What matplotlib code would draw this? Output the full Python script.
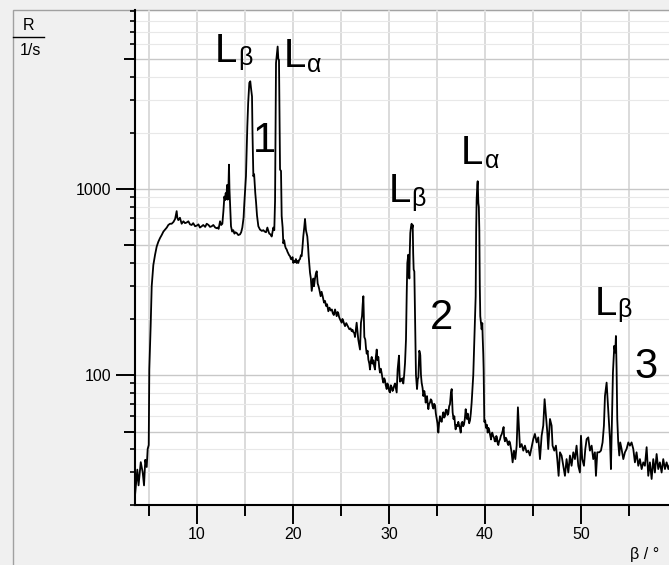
import matplotlib
matplotlib.use('Agg')
import matplotlib.pyplot as plt
from matplotlib.ticker import NullFormatter, NullLocator
from matplotlib.patches import Rectangle
from matplotlib.lines import Line2D

W, H = 669, 565

# spectrum: angle beta (deg) and rate R (1/s)
beta = [
    3.54, 3.78, 3.91, 4.14, 4.34, 4.48, 4.61, 4.76, 4.86, 4.97,
    5.03, 5.17, 5.28, 5.45, 5.63, 5.80, 5.97, 6.15, 6.32, 6.50,
    6.67, 6.85, 7.01, 7.19, 7.36, 7.55, 7.72, 7.88, 7.95, 8.05,
    8.22, 8.40, 8.58, 8.75, 8.92, 9.10, 9.27, 9.44, 9.60, 9.80,
    9.97, 10.15, 10.30, 10.49, 10.65, 10.85, 11.01, 11.20, 11.36, 11.53,
    11.70, 11.90, 12.05, 12.15, 12.25, 12.40, 12.52, 12.64, 12.75, 12.85,
    12.92, 12.99, 13.06, 13.13, 13.20, 13.26, 13.33, 13.38, 13.44, 13.54,
    13.66, 13.78, 13.90, 14.00, 14.13, 14.30, 14.48, 14.60, 14.72, 14.85,
    14.93, 15.02, 15.10, 15.17, 15.24, 15.33, 15.45, 15.55, 15.62, 15.73,
    15.78, 15.87, 15.95, 16.07, 16.15, 16.25, 16.39, 16.56,
    16.75, 16.91, 17.05, 17.19, 17.33, 17.45, 17.53, 17.65, 17.78, 17.88,
    17.95, 18.05, 18.13, 18.23, 18.30, 18.40, 18.47, 18.54, 18.60, 18.65,
    18.75, 18.82, 18.92, 18.99, 19.08, 19.17, 19.25, 19.34, 19.42, 19.51,
    19.60, 19.69, 19.78, 19.86, 19.95, 20.03, 20.12, 20.21, 20.30, 20.38,
    20.47, 20.55, 20.64, 20.73, 20.82, 20.90, 20.98, 21.07, 21.17, 21.25,
    21.35, 21.49, 21.56, 21.63, 21.70, 21.77, 21.86, 21.95, 22.05, 22.12,
    22.19, 22.29, 22.38, 22.47, 22.57, 22.66, 22.74, 22.88, 22.98, 23.09,
    23.23, 23.34, 23.44, 23.55, 23.68, 23.80, 23.93, 24.05, 24.14, 24.25,
    24.38, 24.47, 24.55, 24.65, 24.72, 24.80, 24.90, 25.07, 25.15, 25.24,
    25.33, 25.42, 25.55, 25.66, 25.77, 25.87, 26.00, 26.11, 26.20, 26.28,
    26.38, 26.46, 26.55, 26.63, 26.72, 26.80, 26.90, 26.98, 27.08, 27.19,
    27.26, 27.33, 27.38, 27.43, 27.53, 27.60, 27.68, 27.77, 27.85, 27.95,
    28.02, 28.10, 28.20, 28.28, 28.37, 28.45, 28.54, 28.63, 28.72, 28.80,
    28.89, 28.98, 29.06, 29.15, 29.24, 29.33, 29.41, 29.50, 29.58, 29.66,
    29.76, 29.84, 29.93, 30.02, 30.10,
    30.19, 30.28, 30.37, 30.45, 30.55, 30.63, 30.72, 30.80, 30.90, 31.04,
    31.10, 31.15, 31.25, 31.32, 31.40, 31.49, 31.58, 31.67, 31.77, 31.85,
    31.91, 32.01, 32.06, 32.12, 32.17, 32.22, 32.30, 32.36, 32.42, 32.47,
    32.52, 32.57, 32.64, 32.71, 32.76, 32.81, 32.92, 33.00, 33.06, 33.16,
    33.26, 33.33, 33.40, 33.50, 33.58, 33.68, 33.75, 33.82, 33.90, 33.96,
    34.03, 34.10, 34.18, 34.27, 34.35, 34.44, 34.53, 34.62, 34.70, 34.79,
    34.88, 34.97, 35.05, 35.14, 35.22, 35.31, 35.40, 35.49, 35.57, 35.66,
    35.75, 35.83, 35.92, 36.01, 36.10, 36.18, 36.27, 36.35, 36.45, 36.53,
    36.63, 36.72, 36.81, 36.88, 36.94, 37.05, 37.15, 37.22, 37.29, 37.38,
    37.47, 37.55, 37.64, 37.72, 37.81, 37.90, 37.99, 38.06, 38.13, 38.20,
    38.26, 38.35, 38.44, 38.52, 38.61, 38.70, 38.78, 38.89, 39.03, 39.08,
    39.13, 39.20, 39.24, 39.28, 39.31, 39.36, 39.41, 39.46, 39.51, 39.58,
    39.65, 39.72, 39.76, 39.82, 39.86, 39.93, 40.02, 40.10, 40.20, 40.28,
    40.35, 40.42, 40.52, 40.63, 40.70, 40.76, 40.85, 40.94, 41.02, 41.11,
    41.18, 41.25, 41.32, 41.39, 41.47, 41.56, 41.65, 41.74, 41.84, 41.94,
    42.00, 42.08, 42.17, 42.26, 42.35, 42.43, 42.52,
    42.60, 42.77, 42.88, 43.02, 43.16, 43.30, 43.43, 43.54, 43.64, 43.82,
    43.99, 44.16, 44.34, 44.51, 44.68, 44.86, 45.03, 45.20, 45.38, 45.55,
    45.73, 45.90, 46.07, 46.21, 46.35, 46.49, 46.59, 46.77, 46.94, 47.04,
    47.22, 47.39, 47.53, 47.67, 47.81, 47.98, 48.16, 48.33, 48.50, 48.68,
    48.85, 49.02, 49.20, 49.37, 49.54, 49.72, 49.89, 50.00, 50.13, 50.31,
    50.45, 50.59, 50.76, 50.93, 51.11, 51.28, 51.45, 51.56, 51.70, 51.91,
    52.08, 52.25, 52.39, 52.50, 52.67, 52.77, 52.88, 53.02, 53.12, 53.23,
    53.33, 53.47, 53.57, 53.64, 53.71, 53.78, 53.88, 53.99, 54.09, 54.23,
    54.41, 54.58, 54.75, 54.93, 55.10, 55.27, 55.45, 55.62, 55.79, 55.97,
    56.14, 56.32, 56.49, 56.66, 56.84, 57.01, 57.18, 57.36, 57.53, 57.70,
    57.88, 58.05, 58.22, 58.40, 58.57, 58.75, 58.92, 59.10, 59.25,
]
rate = [
    22.5, 31, 25.5, 34, 30, 25.5, 35, 32, 40, 42,
    107, 183, 300, 390, 443, 490, 520, 545, 565, 590,
    605, 620, 640, 650, 650, 665, 690, 760, 700, 680,
    700, 650, 670, 655, 660, 670, 645, 640, 655, 630,
    635, 645, 620, 630, 640, 625, 650, 640, 625, 630,
    640, 620, 615, 620, 610, 670, 640, 650, 760, 910,
    870, 950, 880, 1050, 876, 950, 1350, 1000, 840, 630,
    590, 600, 575, 585, 580, 565, 570, 585, 620, 700,
    840, 1000, 1170, 1600, 2160, 2900, 3720, 3790, 3500, 3140,
    2000, 1170, 1200, 950, 850, 720, 630, 605,
    595, 600, 590, 585, 620, 590, 575, 570, 555, 590,
    620, 600, 860, 4750, 5200, 5830, 5000, 4940, 2500, 1270,
    1250, 715, 620, 510, 530, 495, 480, 473, 460, 450,
    440, 435, 420, 418, 430, 400, 410, 405, 420, 400,
    410, 400, 415, 420, 440, 435, 480, 555, 620, 690,
    600, 555, 500, 435, 390, 355, 330, 283, 310, 330,
    300, 330, 350, 361, 310, 300, 288, 265, 280, 265,
    245, 250, 235, 240, 220, 230, 222, 225, 215, 210,
    225, 215, 207, 218, 215, 205, 199, 191, 200, 195,
    188, 183, 190, 185, 180, 176, 178, 172, 175, 170,
    168, 160, 175, 191, 170, 155, 145, 137, 191, 207,
    240, 265, 200, 160, 155, 140, 130, 135, 121, 115,
    107, 118, 125, 115, 120, 112, 107, 125, 137, 120,
    125, 110, 103, 108, 102, 95, 91, 96, 94, 88,
    84, 90, 87, 82, 80.5,
    88, 86, 82, 84, 88, 90, 85, 80.5, 107, 127,
    100, 92, 95, 93, 96, 90, 100, 116, 155, 280,
    400, 443, 380, 330, 470, 580, 630, 650, 620, 640,
    450, 369, 360, 207, 140, 100, 84, 95, 97, 135,
    128, 100, 91, 85, 77, 82, 78, 71, 74, 77,
    70, 65.5, 70, 71, 74, 73, 68, 66, 70, 69,
    62, 58, 55, 49, 55, 60, 57, 56, 60, 63,
    59, 60, 65, 65, 61, 62, 68, 69.5, 80, 84,
    63, 58, 60, 54, 51, 54, 53, 56, 54, 52,
    49, 55, 56, 53, 54, 58, 65.5, 60, 58, 62,
    59, 55, 57, 62, 71, 85, 100, 155, 265, 600,
    876, 1050, 1100, 950, 840, 800, 600, 300, 207, 190,
    176, 190, 160, 130, 107, 56, 57, 52, 54, 49,
    52, 51, 48, 45, 48, 49, 47, 46, 44, 44,
    47, 46, 43, 42, 44, 45, 47, 48, 50, 52.5,
    46, 44, 46, 45, 43, 42, 44,
    43.4, 38.4, 33.9, 39.2, 35.3, 41.7, 67, 51.2, 40.9, 42.5,
    39.2, 41.7, 38.4, 39.2, 36.9, 40.9, 45.2, 48.2, 43.4, 46.2,
    35.3, 47.1, 53.4, 74.1, 60.5, 49.3, 40, 58, 53.4, 41.7,
    39.2, 41.7, 35.3, 28.7, 38.4, 36.9, 32.5, 28.7, 35.3, 29.9,
    36.9, 32.5, 38.4, 35.3, 41.7, 32.5, 29.9, 47.1, 35.3, 32.5,
    40, 45.2, 46.2, 39.2, 41.7, 35.3, 38.4, 28.7, 38.4, 38.4,
    39.2, 43.4, 53.4, 77.2, 91, 74.1, 58, 45.2, 31.2, 58,
    103, 143.5, 132, 162, 107, 58, 43.4, 36.9, 43.4, 40,
    35.3, 38.4, 40, 43.4, 41.7, 43.4, 40, 33.9, 38.4, 32.5,
    35.3, 31.2, 33.9, 32.5, 40.9, 28.7, 33.9, 27.6, 35.3, 29.9,
    37.6, 31.2, 33.9, 29.9, 35.3, 31.2, 33.9, 31.2, 33,
]

x_major = [10, 20, 30, 40, 50]
x_minor = [5, 15, 25, 35, 45, 55]
y_major = [100, 1000]
y_major_labels = ['100', '1000']
y_five = [50, 500, 5000]
y_minor = [m * 10 ** e for e in (1, 2, 3) for m in (2, 3, 4, 6, 7, 8, 9)]

# peak labels: (main letter, subscript, ink left px, baseline px, sub left px, sub baseline px)
line_labels = [
    ('L', 'β', 218, 62, 240, 65),
    ('L', 'α', 287, 67, 308, 72),
    ('L', 'β', 392, 202, 413, 206),
    ('L', 'α', 464, 164, 486, 168),
    ('L', 'β', 598, 315, 619, 317),
]
order_labels = [('1', 264, 152), ('2', 442, 329), ('3', 646, 378)]

plt.rcParams['font.family'] = ['Liberation Sans', 'DejaVu Sans']

fig = plt.figure(figsize=(W / 100, H / 100), dpi=100, facecolor='#f0f0f0')

def fx(px):
    return px / W

def fy(py):
    return 1 - py / H

# gray panel frame (only its left and top edges are in view)
fig.add_artist(Rectangle((fx(12.5), -0.1), 1.2, fy(9.5) + 0.1, transform=fig.transFigure,
                         fill=False, edgecolor='#a0a0a0', lw=1))

rect = [fx(135), fy(505), (669 - 135) / W, (505 - 10) / H]

# back axes: white area + ticks/grid at the 5-multiples
ax_back = fig.add_axes(rect, zorder=0)
ax_back.set_facecolor('white')
ax = fig.add_axes(rect, zorder=1)
ax.patch.set_visible(False)

for a in (ax_back, ax):
    a.set_yscale('log')
    a.set_xlim(3.54, 59.17)
    a.set_ylim(20.2, 9160)

for s in ax_back.spines.values():
    s.set_visible(False)
ax_back.set_xticks([])
ax_back.xaxis.set_minor_locator(NullLocator())
ax_back.set_yticks(y_five)
ax_back.yaxis.set_minor_locator(NullLocator())
ax_back.yaxis.set_major_formatter(NullFormatter())
ax_back.tick_params(axis='y', length=7.9, width=1.4, color='black')
ax_back.grid(axis='y', color='#c8c8c8', lw=1)

ax.spines['top'].set_visible(False)
ax.spines['right'].set_visible(False)
ax.spines['left'].set_linewidth(1.5)
ax.spines['bottom'].set_linewidth(1.5)

ax.set_xticks(x_major, [str(v) for v in x_major])
ax.set_xticks(x_minor, minor=True)
ax.set_yticks(y_major, y_major_labels)
ax.set_yticks(y_minor, minor=True)
ax.yaxis.set_minor_formatter(NullFormatter())
ax.tick_params(axis='x', which='major', length=13.7, width=1.4, pad=2, labelsize=11.5)
ax.tick_params(axis='x', which='minor', length=7.9, width=1.4)
ax.tick_params(axis='y', which='major', length=13.7, width=1.4, pad=3.5, labelsize=11.5)
ax.tick_params(axis='y', which='minor', length=3.6, width=1.2)

ax.set_axisbelow(True)
ax.grid(axis='x', which='both', color='#d4d4d4', lw=1.2)
ax.grid(axis='y', which='major', color='#c8c8c8', lw=1)
ax.grid(axis='y', which='minor', color='#e8e8e8', lw=0.8)

ax.plot(beta, rate, color='black', lw=1.3)

# axis labels
fig.text(fx(29), fy(30), 'R', ha='center', va='baseline', fontsize=11.5)
fig.add_artist(Line2D([fx(13), fx(44)], [fy(37), fy(37)], color='black', lw=1))
fig.text(fx(30), fy(55), '1/s', ha='center', va='baseline', fontsize=11.5)
fig.text(fx(645), fy(559), 'β / °', ha='center', va='baseline', fontsize=11.5)

for main, sub, lx, ly, sx, sy in line_labels:
    fig.text(fx(lx - 3), fy(ly), main, ha='left', va='baseline', fontsize=29)
    fig.text(fx(sx - 1.5), fy(sy), sub, ha='left', va='baseline', fontsize=18)

for txt, cx, by in order_labels:
    fig.text(fx(cx), fy(by), txt, ha='center', va='baseline', fontsize=30)

fig.savefig('out.png', dpi=100, facecolor=fig.get_facecolor())
